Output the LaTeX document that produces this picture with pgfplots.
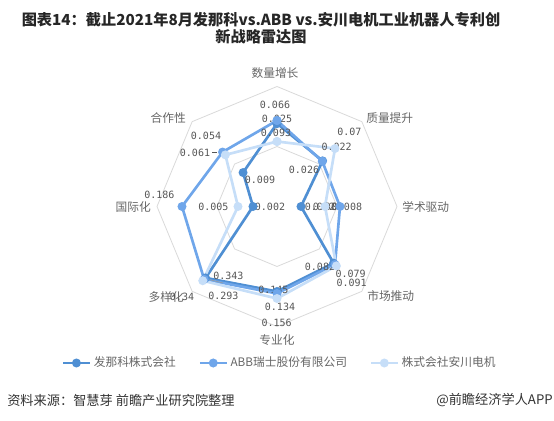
\documentclass[border=0pt]{standalone}
\usepackage{pgfplots}
\pgfplotsset{compat=1.18}
\usepackage{fontspec}
\setmainfont{Noto Sans CJK SC}
\newfontfamily\numfont{DejaVu Sans Mono}

\definecolor{fanuc}{HTML}{4F8FD3}
\definecolor{abb}{HTML}{6FA6EA}
\definecolor{yask}{HTML}{C6DEF8}
\definecolor{gridc}{HTML}{D9D9D9}
\definecolor{labc}{HTML}{666666}
\definecolor{valc}{HTML}{555555}

\tikzset{
  cat/.style={font=\fontsize{8.8pt}{10pt}\selectfont, text=labc, inner sep=0pt},
  val/.style={font=\numfont\fontsize{7.5pt}{8pt}\selectfont, text=valc, inner sep=0pt},
}

\begin{document}
\begin{tikzpicture}
% page is 554 x 421 px, 1 px = 0.75pt, data units = px from the radar centre
\path (0,0) rectangle (415.5pt,315.75pt);
\begin{axis}[
  at={(0,0)}, anchor=south west,
  x=0.75pt, y=0.75pt,
  xmin=-277, xmax=277, ymin=-214.5, ymax=206.5,
  hide axis, clip=false,
  legend columns=3,
  legend style={at={(axis cs:3,-156.5)}, anchor=center, draw=none, fill=none,
    font=\fontsize{8.8pt}{10pt}\selectfont\color{labc},
    /tikz/every even column/.append style={column sep=15pt}},
  legend image code/.code={\draw[mark repeat=2,mark phase=2,#1]
    plot coordinates {(0pt,0pt) (10pt,0pt) (20pt,0pt)};},
]

% octagon grid
\addplot[gridc, line width=0.6pt, data cs=polar, forget plot] coordinates {
(90,120) (45,120) (0,120) (-45,120) (-90,120) (-135,120) (180,120) (135,120) (90,120)};
\addplot[gridc, line width=0.6pt, data cs=polar, forget plot] coordinates {
(90,60) (45,60) (0,60) (-45,60) (-90,60) (-135,60) (180,60) (135,60) (90,60)};

% series, radius read in px
\addplot[fanuc, line width=2pt, mark=*, mark size=2.3pt, data cs=polar] coordinates {
(90,83) (45,64.5) (0,24) (-45,80) (-90,85) (-135,101) (180,24) (135,48) (90,83)};
\addlegendentry{发那科株式会社}
\addplot[abb, line width=2pt, mark=*, mark size=2.3pt, data cs=polar] coordinates {
(90,86) (45,64) (0,63) (-45,82) (-90,87) (-135,103) (180,95) (135,77) (90,86)};
\addlegendentry{ABB瑞士股份有限公司}
\addplot[yask, line width=2pt, mark=*, mark size=2.3pt, data cs=polar] coordinates {
(90,65) (45,82) (0,48) (-45,84) (-90,92) (-135,105) (180,39) (135,73) (90,65)};
\addlegendentry{株式会社安川电机}

% category labels
\node[cat] at (axis cs:-2,133.2) {数量增长};
\node[cat, anchor=west] at (axis cs:89,88.2) {质量提升};
\node[cat, anchor=west] at (axis cs:125,-0.2) {学术驱动};
\node[cat, anchor=west] at (axis cs:90,-89.5) {市场推动};
\node[cat] at (axis cs:0,-133.5) {专业化};
\node[cat, anchor=east] at (axis cs:-93,-90.2) {多样化};
\node[cat, anchor=east] at (axis cs:-126,-0.2) {国际化};
\node[cat, anchor=east] at (axis cs:-91,88.2) {合作性};

% value labels
\node[val] at (axis cs:-2,101.5) {0.066};
\node[val] at (axis cs:0,87.2) {0.025};
\node[val] at (axis cs:-1,73.8) {0.093};
\node[val] at (axis cs:72.3,74.8) {0.07};
\node[val] at (axis cs:59.7,59.8) {0.022};
\node[val] at (axis cs:27,36.5) {0.026};
\node[val] at (axis cs:-71,70.5) {0.054};
\node[val] at (axis cs:-82,53.8) {0.061};
\draw[valc, line width=0.4pt] (axis cs:-65,53.8) -- (axis cs:-60,53.8);
\node[val] at (axis cs:-17,26.5) {0.009};
\node[val] at (axis cs:-117.7,11.5) {0.186};
\node[val] at (axis cs:-63.7,-0.2) {0.005};
\node[val] at (axis cs:-7,-0.2) {0.002};
\node[val] at (axis cs:43,0) {0.002};
\node[val] at (axis cs:51,0) {0.002};
\node[val] at (axis cs:70,0) {0.008};
\node[val] at (axis cs:43,-60.8) {0.082};
\node[val] at (axis cs:73.7,-67.5) {0.079};
\node[val] at (axis cs:74.7,-76.8) {0.091};
\node[val] at (axis cs:-3.7,-83.5) {0.145};
\node[val] at (axis cs:3,-100.2) {0.134};
\node[val] at (axis cs:-0.3,-116.2) {0.156};
\node[val] at (axis cs:-48.7,-69.5) {0.343};
\node[val] at (axis cs:-53.7,-89.5) {0.293};
\node[val] at (axis cs:-95,-90.8) {0.34};
\draw[gridc!70!black, line width=0.4pt] (axis cs:-74,-71.5) -- (axis cs:-54,-76.5);

% title and notes
\node[font=\bfseries\fontsize{11.4pt}{12.75pt}\selectfont, text=black!85, align=center, inner sep=0pt]
  at (axis cs:-16,178) {图表14：截止2021年8月发那科vs.ABB vs.安川电机工业机器人专利创\\新战略雷达图};
\node[font=\fontsize{9.9pt}{11pt}\selectfont, text=black!80, anchor=west, inner sep=0pt]
  at (axis cs:-270,-193.5) {资料来源：智慧芽 前瞻产业研究院整理};
\node[font=\fontsize{9.9pt}{11pt}\selectfont, text=black!80, anchor=east, inner sep=0pt]
  at (axis cs:276,-193.5) {@前瞻经济学人APP};
\end{axis}
\end{tikzpicture}
\end{document}
